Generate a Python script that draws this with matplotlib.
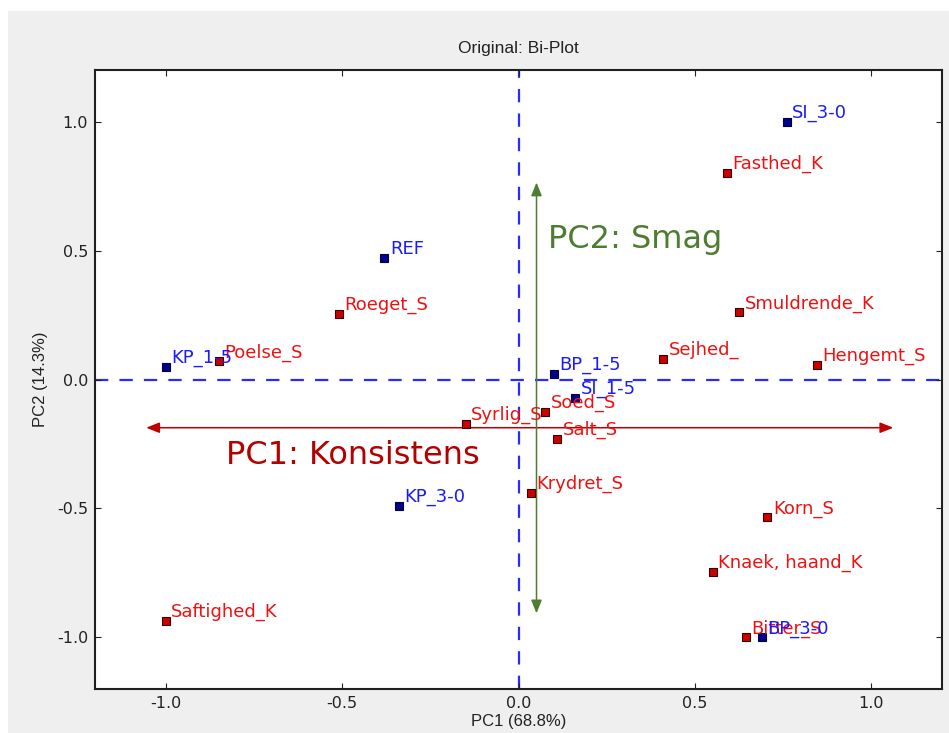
import matplotlib
matplotlib.use('Agg')
from matplotlib import pyplot as plt
from matplotlib.patches import Rectangle

samples   = [ 'SI_3-0', 'REF', 'KP_1-5', 'BP_1-5', 'SI_1-5', 'KP_3-0', 'BP_3-0' ]
sample_pc1 = [ 0.76, -0.38, -1.00, 0.10, 0.16, -0.34, 0.69 ]
sample_pc2 = [ 1.00, 0.47, 0.05, 0.02, -0.07, -0.49, -1.00 ]

variables = [ 'Fasthed_K', 'Roeget_S', 'Poelse_S', 'Smuldrende_K', 'Sejhed_', 'Hengemt_S',
              'Syrlig_S', 'Soed_S', 'Salt_S', 'Krydret_S', 'Korn_S', 'Knaek, haand_K',
              'Bitter_S', 'Saftighed_K' ]
var_pc1 = [ 0.59, -0.51, -0.85, 0.625, 0.41, 0.845, -0.15, 0.076, 0.11, 0.035, 0.705, 0.55, 0.645, -1.00 ]
var_pc2 = [ 0.80, 0.255, 0.07, 0.26, 0.08, 0.055, -0.172, -0.127, -0.232, -0.44, -0.535, -0.746, -1.00, -0.935 ]

# interpretation arrows
pc1_arrow = ( -1.055, 1.062, -0.187 )   # x from, x to, y
pc2_arrow = ( 0.051, 0.764, -0.907 )    # x, y from, y to

ticks = [ -1.0, -0.5, 0.0, 0.5, 1.0 ]

plt.rcParams['axes.unicode_minus'] = False
sans = [ 'Liberation Sans', 'DejaVu Sans' ]

fig = plt.figure( figsize=(9.49, 7.33), dpi=100, facecolor='white' )
# grey window area of the screenshot
fig.patches.append( Rectangle( (8/949., 0), 1, 1-11/733., transform=fig.transFigure,
                               facecolor='#efefef', edgecolor='none', zorder=-10 ) )

ax = fig.add_axes( [ 95/949., 1-689/733., (942-95)/949., (689-70)/733. ] )

ax.axvline( 0, color='#2b2bff', linewidth=1.6, dashes=(6, 5), zorder=1 )
ax.axhline( 0, color='#2b2bff', linewidth=1.6, dashes=(6, 5), zorder=1 )

# PC1 arrow
ax.annotate( '', xy=(pc1_arrow[1], pc1_arrow[2]), xytext=(pc1_arrow[0], pc1_arrow[2]),
             arrowprops=dict( arrowstyle='<|-|>,head_length=0.5,head_width=0.2', color='#c00000',
                              lw=1.1, mutation_scale=16, shrinkA=0, shrinkB=0 ), zorder=2 )
# PC2 arrow
ax.annotate( '', xy=(pc2_arrow[0], pc2_arrow[1]), xytext=(pc2_arrow[0], pc2_arrow[2]),
             arrowprops=dict( arrowstyle='<|-|>,head_length=0.5,head_width=0.2', color='#4e7d32',
                              lw=1.1, mutation_scale=16, shrinkA=0, shrinkB=0 ), zorder=2 )

ax.text( -0.83, -0.326, 'PC1: Konsistens', fontsize=23, color='#b30000', va='baseline', zorder=3 )
ax.text( 0.085, 0.508, 'PC2: Smag', fontsize=23, color='#4e7d32', va='baseline', zorder=3 )

ax.plot( var_pc1, var_pc2, linestyle='none', marker='s', markersize=5.5,
         markerfacecolor='#cc0000', markeredgecolor='#300000', markeredgewidth=0.8, zorder=4 )
ax.plot( sample_pc1, sample_pc2, linestyle='none', marker='s', markersize=5.5,
         markerfacecolor='#000090', markeredgecolor='#000030', markeredgewidth=0.8, zorder=4 )

for i, name in enumerate(variables):
    ax.annotate( name, (var_pc1[i], var_pc2[i]), xytext=(4, 3), textcoords='offset points',
                 fontsize=13, color='#ee1111', va='baseline', ha='left', zorder=5 )
for i, name in enumerate(samples):
    ax.annotate( name, (sample_pc1[i], sample_pc2[i]), xytext=(4, 3), textcoords='offset points',
                 fontsize=13, color='#1a1aff', va='baseline', ha='left', zorder=5 )

ax.set_xlim( -1.2, 1.2 )
ax.set_ylim( -1.2, 1.2 )
ax.set_xticks( ticks )
ax.set_yticks( ticks )
ax.tick_params( direction='in', top=True, right=True, length=4, width=0.8,
                labelsize=11.5, pad=5, colors='#222222' )
for s in ax.spines.values():
    s.set_linewidth(1.5)
    s.set_color('#202020')

ax.set_xlabel( 'PC1 (68.8%)', fontsize=12, family=sans, color='#222222', labelpad=2 )
ax.set_ylabel( 'PC2 (14.3%)', fontsize=12, family=sans, color='#222222', labelpad=6 )
ax.set_title( 'Original: Bi-Plot', fontsize=12.5, family=sans, color='#222222', pad=12 )

fig.savefig( 'out.png', dpi=100, facecolor=fig.get_facecolor() )
